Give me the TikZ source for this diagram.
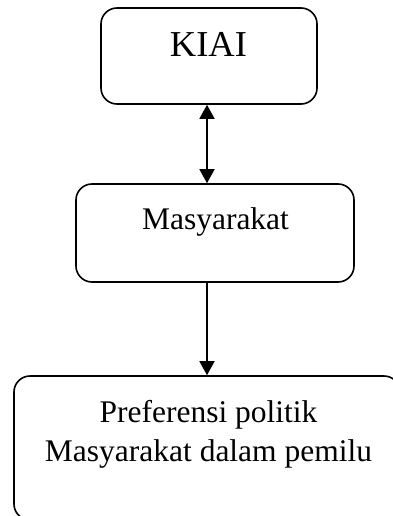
\documentclass[tikz,border=0pt]{standalone}
\usepackage{fontspec}
\setmainfont{Liberation Serif}
\usetikzlibrary{arrows.meta}
\begin{document}
\begin{tikzpicture}[x=1pt,y=-1pt,
  box/.style={draw, line width=1.6pt, rounded corners=16pt, inner sep=0pt},
  lbl/.style={anchor=base, inner sep=0pt, align=center},
  conn/.style={line width=1.6pt},
  tip/.style={Triangle[width=15pt,length=14pt]}]
\useasboundingbox (0,0) rectangle (392,516);
\node[box, minimum width=216pt, minimum height=96pt] (kiai) at (209,56) {};
\node[box, minimum width=278pt, minimum height=98pt] (masy) at (215,233) {};
\node[box, minimum width=386pt, minimum height=144pt] (bot) at (207,448) {};
\node[lbl, font=\fontsize{36.5}{44}\selectfont] (tk) at (208.5,57) {KIAI};
\node[lbl, font=\fontsize{31.5}{38}\selectfont] (tm) at (215.5,229) {Masyarakat};
\node[lbl, font=\fontsize{31.5}{39}\selectfont] (tb1) at (208.5,422) {Preferensi politik};
\node[lbl, font=\fontsize{31.5}{39}\selectfont] (tb2) at (208.5,461) {Masyarakat dalam pemilu};
\draw[conn, {Triangle[width=15pt,length=14pt]}-{Triangle[width=15pt,length=14pt]}] (bot.north |- kiai.south) -- (bot.north |- masy.north);
\draw[conn, -{Triangle[width=15pt,length=14pt]}] (bot.north |- masy.south) -- (bot.north);
\end{tikzpicture}
\end{document}
